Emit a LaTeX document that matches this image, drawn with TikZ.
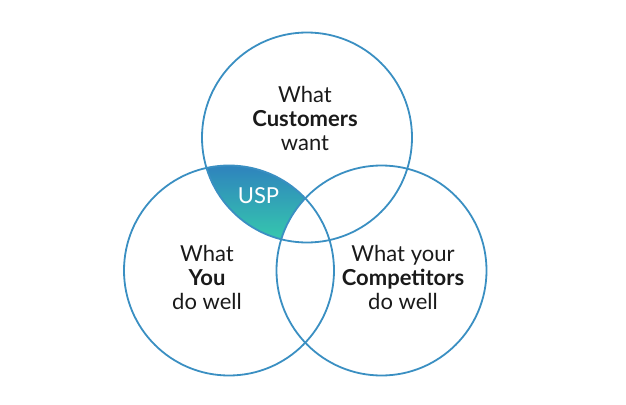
\documentclass[tikz,border=0pt]{standalone}
\usepackage{fontspec}
\setmainfont{Lato}
\definecolor{ringblue}{RGB}{58,143,194}
\definecolor{uspblue}{RGB}{46,128,190}
\definecolor{uspgreen}{RGB}{54,206,172}
\definecolor{txt}{RGB}{26,26,26}
\begin{document}
\begin{tikzpicture}[x=1pt,y=-1pt,
  ring/.style={circle,draw=ringblue,line width=1.8pt,minimum size=210pt,inner sep=0pt},
  lbl/.style={align=center,font=\fontsize{22}{24}\selectfont,text=txt},
  usplbl/.style={font=\fontsize{22}{26}\selectfont,text=white}]
\useasboundingbox (0,0) rectangle (626,404);
\coordinate (ct) at (307,137.5);
\coordinate (cl) at (229,270.5);
\coordinate (cr) at (381.5,270.5);
\begin{scope}
  \clip (cl) circle (105);
  \clip (ct) circle (105);
  \begin{scope}[even odd rule]
    \clip (cr) circle (105) (0,0) rectangle (626,404);
    \shade[top color=uspblue,bottom color=uspgreen] (190,162) rectangle (320,246);
  \end{scope}
\end{scope}
\node[ring] (top) at (ct) {};
\node[ring] (left) at (cl) {};
\node[ring] (right) at (cr) {};
\node[usplbl] (usp) at (258.5,195.5) {USP};
\node[lbl] (cust) at (305,118) {What\\\textbf{Customers}\\want};
\node[lbl] (you) at (207,277) {What\\\textbf{You}\\do well};
\node[lbl] (comp) at (403,277) {What your\\\textbf{Competitors}\\do well};
\end{tikzpicture}
\end{document}
